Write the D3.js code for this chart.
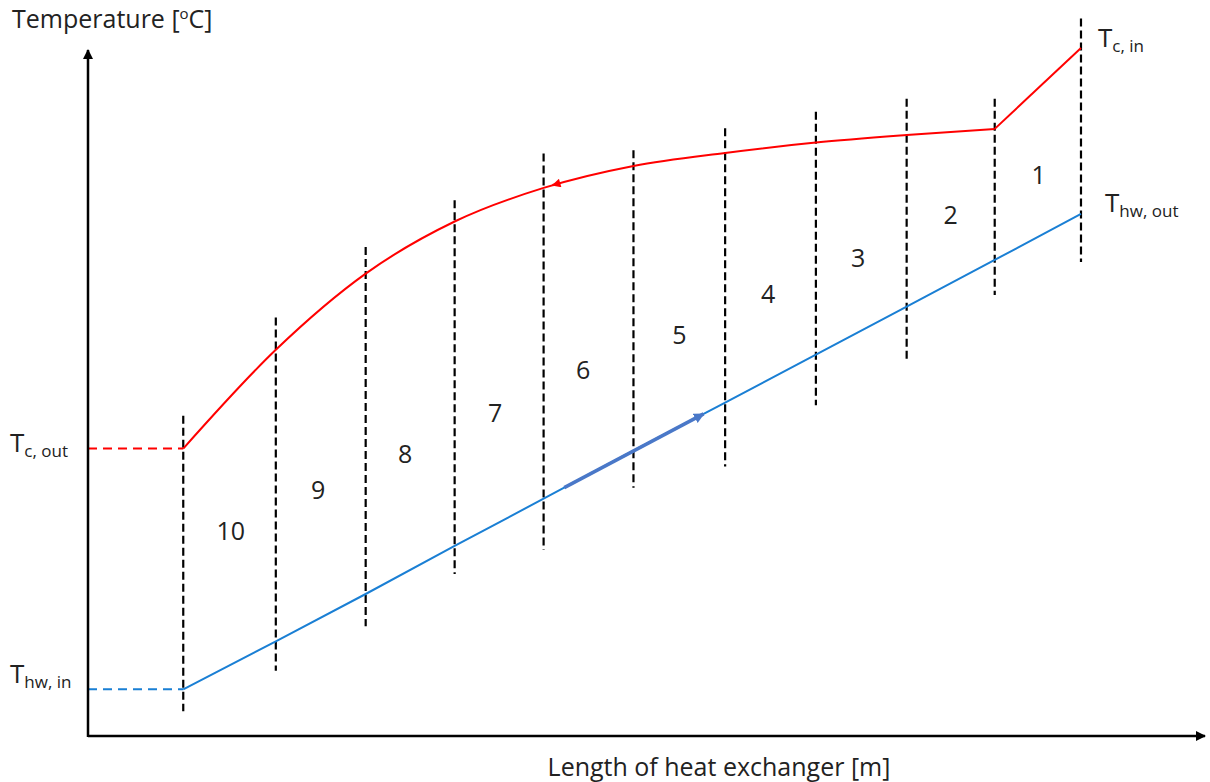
<!DOCTYPE html>
<html>
<head>
<meta charset="utf-8">
<script src="https://cdn.jsdelivr.net/npm/d3@7"></script>
<style>
  body { margin: 0; background: #fff; }
  text { font-family: "Open Sans", "Noto Sans", sans-serif; fill: #222; }
</style>
</head>
<body>
<div id="chart"></div>
<script>
// Segment boundaries along the exchanger (length units, y axis sits at 0)
var boundaries = [1.06, 2.09, 3.09, 4.08, 5.07, 6.07, 7.09, 8.10, 9.11, 10.09, 11.05];
// Top / bottom end of each dashed divider (temperature units)
var dividerTop = [46.7, 61.0, 71.3, 78.1, 84.9, 85.4, 88.6, 91.0, 92.9, 92.9, 104.6];
var dividerBottom = [3.6, 9.5, 16.0, 23.6, 27.1, 36.2, 39.3, 48.2, 54.4, 64.3, 69.1];
// Cold stream (red), read at each boundary
var coldTemps = [41.9, 56.3, 67.4, 75.0, 79.9, 83.1, 85.0, 86.5, 87.6, 88.5, 100.3];
// Hot water stream (blue), read at each boundary
var hotTemps = [6.8, 13.8, 20.7, 27.7, 34.6, 41.6, 48.6, 55.6, 62.6, 69.4, 76.1];
// Segment numbers and where they sit inside each cell
var segLabels = ["10", "9", "8", "7", "6", "5", "4", "3", "2", "1"];
var segLabelLen = [1.59, 2.56, 3.53, 4.53, 5.51, 6.58, 7.57, 8.57, 9.60, 10.58];
var segLabelTemps = [28.5, 34.5, 39.8, 45.8, 52.1, 57.1, 63.1, 68.3, 74.6, 80.4];

var svgWidth = 1210;
var svgHeight = 782;

var svg = d3.select("#chart")
  .append("svg")
  .attr("width", svgWidth)
  .attr("height", svgHeight);

// x: length, y: temperature
var x = d3.scaleLinear().domain([0, 12.43]).range([88, 1205]);
var y = d3.scaleLinear().domain([0, 100]).range([736, 50]);

// arrow markers
var defs = svg.append("defs");
function addMarker(id, color, w, h) {
  defs.append("marker")
    .attr("id", id)
    .attr("viewBox", "0 0 10 10")
    .attr("refX", 9).attr("refY", 5)
    .attr("markerWidth", w).attr("markerHeight", h)
    .attr("markerUnits", "strokeWidth")
    .attr("orient", "auto")
    .append("path")
    .attr("d", "M0,0 L10,5 L0,10 z")
    .attr("fill", color);
}
addMarker("axisArrow", "#000", 4, 4);
addMarker("redArrow", "#ff0000", 5, 3.5);
addMarker("blueArrow", "#4a78c8", 3, 3);

// dashed dividers between segments
svg.selectAll(".divider")
  .data(boundaries)
  .enter()
  .append("line")
  .attr("class", "divider")
  .attr("x1", d => x(d))
  .attr("x2", d => x(d))
  .attr("y1", (d, i) => y(dividerTop[i]))
  .attr("y2", (d, i) => y(dividerBottom[i]))
  .attr("stroke", "#000")
  .attr("stroke-width", 2.2)
  .attr("stroke-dasharray", "8,4");

// dashed leaders from the y axis to the inlet/outlet points
svg.append("line")
  .attr("x1", x(0)).attr("x2", x(boundaries[0]))
  .attr("y1", y(coldTemps[0])).attr("y2", y(coldTemps[0]))
  .attr("stroke", "#ff0000").attr("stroke-width", 2)
  .attr("stroke-dasharray", "9,6");
svg.append("line")
  .attr("x1", x(0)).attr("x2", x(boundaries[0]))
  .attr("y1", y(hotTemps[0])).attr("y2", y(hotTemps[0]))
  .attr("stroke", "#1a7fd4").attr("stroke-width", 2)
  .attr("stroke-dasharray", "9,6");

// cold stream: smooth through segments 10..2, straight in segment 1
var coldPts = boundaries.map((b, i) => [x(b), y(coldTemps[i])]);
var curve = d3.line().curve(d3.curveMonotoneX);
var coldPath = svg.append("path")
  .attr("d", curve(coldPts.slice(0, 10)))
  .attr("fill", "none")
  .attr("stroke", "#ff0000")
  .attr("stroke-width", 2);
svg.append("path")
  .attr("d", d3.line()(coldPts.slice(9)))
  .attr("fill", "none")
  .attr("stroke", "#ff0000")
  .attr("stroke-width", 2);

// hot water stream
var hotPts = boundaries.map((b, i) => [x(b), y(hotTemps[i])]);
svg.append("path")
  .attr("d", d3.line()(hotPts))
  .attr("fill", "none")
  .attr("stroke", "#1a7fd4")
  .attr("stroke-width", 2);

// point on the drawn cold curve at a given pixel x
function coldPointAt(px) {
  var node = coldPath.node();
  var total = node.getTotalLength();
  var lo = 0, hi = total;
  for (var k = 0; k < 40; k++) {
    var mid = (lo + hi) / 2;
    if (node.getPointAtLength(mid).x < px) lo = mid; else hi = mid;
  }
  return node.getPointAtLength(lo);
}

// flow direction arrows
var pA = coldPointAt(x(5.25)), pB = coldPointAt(x(5.17));
svg.append("line")
  .attr("x1", pA.x).attr("y1", pA.y)
  .attr("x2", pB.x).attr("y2", pB.y)
  .attr("stroke", "#ff0000").attr("stroke-width", 2.5)
  .attr("marker-end", "url(#redArrow)");
var hotAt = function (l) { return d3.scaleLinear().domain(boundaries).range(hotTemps)(l); };
svg.append("line")
  .attr("x1", x(5.3)).attr("y1", y(hotAt(5.3)))
  .attr("x2", x(6.85)).attr("y2", y(hotAt(6.85)))
  .attr("stroke", "#4a78c8").attr("stroke-width", 3.5)
  .attr("marker-end", "url(#blueArrow)");

// axes with arrow heads
svg.append("line")
  .attr("x1", x(0)).attr("y1", y(-0.15))
  .attr("x2", x(0)).attr("y2", y(100))
  .attr("stroke", "#000").attr("stroke-width", 2.5)
  .attr("marker-end", "url(#axisArrow)");
svg.append("line")
  .attr("x1", x(0)).attr("y1", y(0))
  .attr("x2", x(12.43)).attr("y2", y(0))
  .attr("stroke", "#000").attr("stroke-width", 2.5)
  .attr("marker-end", "url(#axisArrow)");

// segment numbers
svg.selectAll(".seg")
  .data(segLabels)
  .enter()
  .append("text")
  .attr("class", "seg")
  .attr("x", (d, i) => x(segLabelLen[i]))
  .attr("y", (d, i) => y(segLabelTemps[i]))
  .attr("text-anchor", "middle")
  .attr("font-size", 25)
  .text(d => d);

// axis titles
svg.append("text")
  .attr("x", 12).attr("y", 28)
  .attr("font-size", 25)
  .html('Temperature [<tspan font-size="15" dy="-9">o</tspan><tspan dy="9">C]</tspan>');
svg.append("text")
  .attr("x", 719).attr("y", 776)
  .attr("text-anchor", "middle")
  .attr("font-size", 25)
  .text("Length of heat exchanger [m]");

// stream end labels
function subLabel(px, py, sub) {
  var t = svg.append("text").attr("x", px).attr("y", py).attr("font-size", 26);
  t.append("tspan").text("T");
  t.append("tspan").attr("font-size", 17).attr("dy", 5).text(sub);
}
subLabel(1098, 47, "c, in");
subLabel(1105, 212, "hw, out");
subLabel(10, 452, "c, out");
subLabel(10, 683, "hw, in");
</script>
</body>
</html>
